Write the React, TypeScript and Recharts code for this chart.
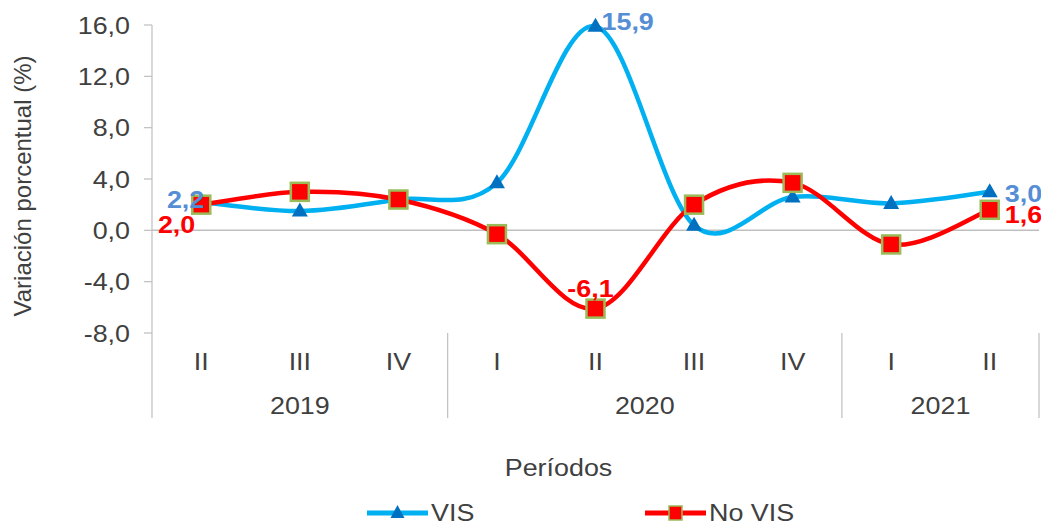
import React from 'react';
import { LineChart, Line, XAxis, YAxis, ReferenceLine, Legend, LabelList, Label } from 'recharts';

// ---------- data ----------
const quarters = ['II', 'III', 'IV', 'I', 'II', 'III', 'IV', 'I', 'II'];
const years = ['2019', '2019', '2019', '2020', '2020', '2020', '2020', '2021', '2021'];
const visValues = [2.2, 1.5, 2.4, 3.7, 15.9, 0.4, 2.6, 2.1, 3.0];
const noVisValues = [2.0, 3.0, 2.4, -0.3, -6.1, 2.0, 3.7, -1.1, 1.6];
const yTicks = [-8, -4, 0, 4, 8, 12, 16];
const visName = 'VIS';
const noVisName = 'No VIS';
const labelledIndices = [0, 4, 8];
const xTitle = 'Períodos';
const yTitle = 'Variación porcentual (%)';

const data = quarters.map((q, i) => ({
  period: `${years[i]}-${q}`,
  vis: visValues[i],
  noVis: noVisValues[i],
}));

// ---------- layout / style ----------
const W = 1041;
const H = 525;
const M = { top: 25, right: 2, left: 0, bottom: 0 };
const YW = 152;
const LEG_H = 24;
const PLOT_BOTTOM = 333;
const XH = H - M.bottom - LEG_H - PLOT_BOTTOM;
const PLOT_W = W - M.left - M.right - YW;
const BW = PLOT_W / quarters.length;
const FONT = '"Liberation Sans", Arial, sans-serif';
const TXT = '#404040';
const GRID = '#BFBFBF';
const VIS_LINE = '#00B0F0';
const VIS_MARK = '#0070C0';
const VIS_LABEL = '#558ED5';
const NOVIS_LINE = '#FF0000';
const NOVIS_BORDER = '#9BBB59';
const SX = 1.12; // horizontal text stretch seen in the reference

const fmt = (v: number) => v.toFixed(1).replace('.', ',');

// Excel-like smoothed line (Catmull-Rom through the points)
function excelSmooth(context: any) {
  let pts: number[][] = [];
  return {
    areaStart() {},
    areaEnd() {},
    lineStart() {
      pts = [];
    },
    lineEnd() {
      const n = pts.length;
      if (!n) return;
      context.moveTo(pts[0][0], pts[0][1]);
      for (let i = 0; i < n - 1; i++) {
        const p0 = pts[Math.max(i - 1, 0)];
        const p1 = pts[i];
        const p2 = pts[i + 1];
        const p3 = pts[Math.min(i + 2, n - 1)];
        const t = 1 / 6;
        context.bezierCurveTo(
          p1[0] + (p2[0] - p0[0]) * t,
          p1[1] + (p2[1] - p0[1]) * t,
          p2[0] - (p3[0] - p1[0]) * t,
          p2[1] - (p3[1] - p1[1]) * t,
          p2[0],
          p2[1]
        );
      }
    },
    point(x: number, y: number) {
      pts.push([+x, +y]);
    },
  };
}

const SText = (p: any) => {
  const { x, y, anchor = 'middle', fill = TXT, size = 24, weight = 'normal', children } = p;
  return (
    <g transform={`translate(${x},${y}) scale(${SX},1)`}>
      <text x={0} y={0} textAnchor={anchor} fill={fill} fontSize={size} fontWeight={weight} fontFamily={FONT}>
        {children}
      </text>
    </g>
  );
};

const TriangleDot = (p: any) => {
  const { cx, cy } = p;
  if (cx == null || cy == null) return <g />;
  return <path d={`M${cx},${cy - 8.5}L${cx + 8},${cy + 5.5}L${cx - 8},${cy + 5.5}Z`} fill={VIS_MARK} />;
};

const SquareDot = (p: any) => {
  const { cx, cy } = p;
  if (cx == null || cy == null) return <g />;
  return <rect x={cx - 9} y={cy - 9} width={18} height={18} fill={NOVIS_LINE} stroke={NOVIS_BORDER} strokeWidth={2.5} />;
};

const XTick = (props: any) => {
  const { x, y, index } = props;
  const els: any[] = [];
  els.push(
    <SText key="q" x={x} y={y + 37}>
      {quarters[index]}
    </SText>
  );
  const isStart = index === 0 || years[index] !== years[index - 1];
  if (isStart) {
    let n = 0;
    while (index + n < years.length && years[index + n] === years[index]) n++;
    els.push(<line key="s" x1={x - BW / 2} x2={x - BW / 2} y1={y} y2={y + 85} stroke={GRID} strokeWidth={1.2} />);
    els.push(
      <SText key="y" x={x + ((n - 1) * BW) / 2} y={y + 81}>
        {years[index]}
      </SText>
    );
  }
  if (index === years.length - 1) {
    els.push(<line key="e" x1={x + BW / 2} x2={x + BW / 2} y1={y} y2={y + 85} stroke={GRID} strokeWidth={1.2} />);
  }
  return <g>{els}</g>;
};

const YTick = (props: any) => {
  const { x, y, payload } = props;
  return (
    <SText x={x} y={y + 8.5} anchor="end">
      {fmt(payload.value)}
    </SText>
  );
};

const visLabelPlace: Record<number, { dx: number; dy: number; anchor: string }> = {
  0: { dx: 3, dy: 6, anchor: 'end' },
  4: { dx: 6, dy: 4, anchor: 'start' },
  8: { dx: 15, dy: 10, anchor: 'start' },
};
const noVisLabelPlace: Record<number, { dx: number; dy: number; anchor: string }> = {
  0: { dx: -6, dy: 28, anchor: 'end' },
  4: { dx: -5, dy: -12, anchor: 'middle' },
  8: { dx: 15, dy: 13.5, anchor: 'start' },
};

const makeLabel = (place: Record<number, any>, color: string) => (p: any) => {
  const { x, y, value, index } = p;
  if (!labelledIndices.includes(index) || !place[index]) return null;
  const pl = place[index];
  return (
    <SText x={x + pl.dx} y={y + pl.dy} anchor={pl.anchor} fill={color} weight="bold">
      {fmt(value)}
    </SText>
  );
};

const YTitle = (p: any) => {
  const vb = p.viewBox || {};
  const cy = (vb.y ?? 25) + (vb.height ?? 308) / 2 + 7;
  return (
    <text
      transform={`translate(31, ${cy}) rotate(-90)`}
      x={0}
      y={0}
      textAnchor="middle"
      fill={TXT}
      fontSize={24}
      fontFamily={FONT}
    >
      {yTitle}
    </text>
  );
};

const XTitle = (p: any) => {
  const vb = p.viewBox || {};
  const cx = (vb.x ?? 152) + (vb.width ?? 887) / 2 - 37;
  const by = (vb.y ?? 333) + 143;
  return (
    <SText x={cx} y={by}>
      {xTitle}
    </SText>
  );
};

const legendItems = [
  { name: visName, left: 367, kind: 'tri' },
  { name: noVisName, left: 645, kind: 'sq' },
];

const LegendContent = () => (
  <div style={{ position: 'relative', width: W, height: LEG_H, fontFamily: FONT, fontSize: 24, color: TXT }}>
    {legendItems.map((it) => (
      <div
        key={it.name}
        style={{ position: 'absolute', left: it.left, top: 0, height: LEG_H, display: 'flex', alignItems: 'center' }}
      >
        <svg width={61} height={LEG_H} style={{ display: 'block' }}>
          <line
            x1={0}
            x2={61}
            y1={LEG_H / 2}
            y2={LEG_H / 2}
            stroke={it.kind === 'tri' ? VIS_LINE : NOVIS_LINE}
            strokeWidth={5}
            strokeLinecap="round"
          />
          {it.kind === 'tri' ? (
            <path d={`M30.5,${LEG_H / 2 - 8}L37.5,${LEG_H / 2 + 5}L23.5,${LEG_H / 2 + 5}Z`} fill={VIS_MARK} />
          ) : (
            <rect x={24} y={LEG_H / 2 - 7} width={13} height={14} fill={NOVIS_LINE} stroke={NOVIS_BORDER} strokeWidth={1.5} />
          )}
        </svg>
        <span
          style={{
            marginLeft: 3,
            lineHeight: `${LEG_H}px`,
            display: 'inline-block',
            transform: `scaleX(${SX})`,
            transformOrigin: 'left center',
            whiteSpace: 'nowrap',
          }}
        >
          {it.name}
        </span>
      </div>
    ))}
  </div>
);

export default function App() {
  return (
    <div style={{ position: 'absolute', left: 0, top: 0, width: W, height: H, background: '#fff', fontFamily: FONT }}>
      <LineChart width={W} height={H} data={data} margin={M}>
        <XAxis
          dataKey="period"
          scale="point"
          padding={{ left: BW / 2, right: BW / 2 }}
          height={XH}
          axisLine={false}
          tickLine={false}
          tickSize={0}
          tickMargin={0}
          interval={0}
          tick={<XTick />}
        >
          <Label content={<XTitle />} />
        </XAxis>
        <YAxis
          domain={[-8, 16]}
          ticks={yTicks}
          interval={0}
          width={YW}
          axisLine={{ stroke: GRID, strokeWidth: 1.2 }}
          tickLine={{ stroke: GRID, strokeWidth: 1.2 }}
          tickSize={8}
          tickMargin={14}
          tick={<YTick />}
        >
          <Label content={<YTitle />} />
        </YAxis>
        <ReferenceLine y={0} stroke={GRID} strokeWidth={1.5} />
        <Line
          dataKey="vis"
          name={visName}
          type={excelSmooth as any}
          stroke={VIS_LINE}
          strokeWidth={4.5}
          dot={(p: any) => <TriangleDot key={`v${p.index}`} {...p} />}
          activeDot={false}
          isAnimationActive={false}
        >
          <LabelList dataKey="vis" content={makeLabel(visLabelPlace, VIS_LABEL)} />
        </Line>
        <Line
          dataKey="noVis"
          name={noVisName}
          type={excelSmooth as any}
          stroke={NOVIS_LINE}
          strokeWidth={4.5}
          dot={(p: any) => <SquareDot key={`n${p.index}`} {...p} />}
          activeDot={false}
          isAnimationActive={false}
        >
          <LabelList dataKey="noVis" content={makeLabel(noVisLabelPlace, NOVIS_LINE)} />
        </Line>
        <Legend
          verticalAlign="bottom"
          height={LEG_H}
          content={<LegendContent />}
          wrapperStyle={{ left: 0, bottom: 0, width: W, height: LEG_H }}
        />
      </LineChart>
    </div>
  );
}
